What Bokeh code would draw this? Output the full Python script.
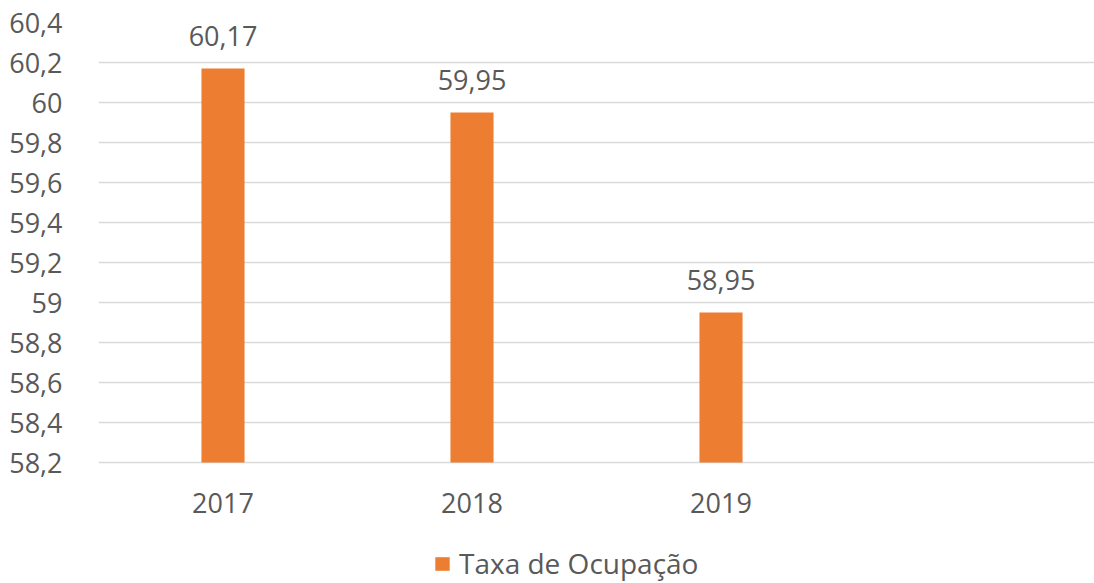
from bokeh.plotting import figure
from bokeh.models import (FactorRange, Range1d, FixedTicker, CustomJSTickFormatter,
                          ColumnDataSource, LabelSet, Legend, LegendItem, CategoricalAxis)
from bokeh.core.properties import value
from bokeh.embed import file_html
from bokeh.resources import INLINE

# ---- data ----
categories = ["2017", "2018", "2019"]
values = [60.17, 59.95, 58.95]
series_name = "Taxa de Ocupação"
y_ticks = [58.2, 58.4, 58.6, 58.8, 59.0, 59.2, 59.4, 59.6, 59.8, 60.0, 60.2, 60.4]

value_labels = [f"{v:.2f}".replace(".", ",") for v in values]

FONT = "Open Sans"
FS = "27px"
TEXT_COLOR = "#595959"
BAR_COLOR = "#ED7D31"

factors = categories + [" "]

W, H = 1094, 583
TOP, LEFT = 22, 98
PX_PER_UNIT = 200.0
y_end = y_ticks[-1]
y_start = y_end - (H - TOP) / PX_PER_UNIT   # frame reaches the bottom; axis sits at 58.2

p = figure(width=W, height=H, x_range=FactorRange(factors=factors),
           y_range=Range1d(y_start, y_end), x_axis_location=None,
           output_backend="svg", toolbar_location=None,
           min_border_left=LEFT, min_border_right=0, min_border_top=TOP,
           min_border_bottom=0)
p.outline_line_color = None
p.background_fill_color = "white"
p.border_fill_color = "white"

src = ColumnDataSource(dict(x=categories, top=values, label=value_labels))
r = p.vbar(x="x", top="top", bottom=y_ticks[0], width=0.173, source=src,
           fill_color=BAR_COLOR, line_color=None)

labels = LabelSet(x="x", y="top", text="label", source=src, y_offset=23,
                  text_align="center", text_baseline="alphabetic",
                  text_font=value(FONT), text_font_size=value(FS),
                  text_color=TEXT_COLOR)
p.add_layout(labels)

# y axis
p.yaxis.ticker = FixedTicker(ticks=y_ticks)
p.yaxis.formatter = CustomJSTickFormatter(
    code="var s = (Math.round(tick*10)/10).toString(); return s.replace('.', ',');")
p.yaxis.axis_line_color = None
p.yaxis.major_tick_line_color = None
p.yaxis.minor_tick_line_color = None
p.yaxis.major_label_standoff = 30
p.yaxis.major_label_text_font = FONT
p.yaxis.major_label_text_font_size = FS
p.yaxis.major_label_text_color = TEXT_COLOR

# x axis, fixed at the baseline value
xaxis = CategoricalAxis(fixed_location=y_ticks[0])
xaxis.axis_line_color = None
xaxis.major_tick_line_color = None
xaxis.minor_tick_line_color = None
xaxis.major_label_standoff = 15
xaxis.major_label_text_font = FONT
xaxis.major_label_text_font_size = FS
xaxis.major_label_text_color = TEXT_COLOR
p.add_layout(xaxis, "below")

p.xgrid.grid_line_color = None
p.ygrid.grid_line_color = "#D9D9D9"
p.ygrid.grid_line_width = 1.5

legend = Legend(items=[LegendItem(label=series_name, renderers=[r])],
                location=(335, 1), orientation="horizontal",
                padding=0, margin=0, spacing=0,
                glyph_width=18, glyph_height=17, label_standoff=8,
                label_height=17,
                label_text_font=FONT, label_text_font_size="28px",
                label_text_color=TEXT_COLOR,
                border_line_alpha=0, background_fill_alpha=0)
p.add_layout(legend, "center")

open("out.html", "w").write(file_html(p, INLINE))
